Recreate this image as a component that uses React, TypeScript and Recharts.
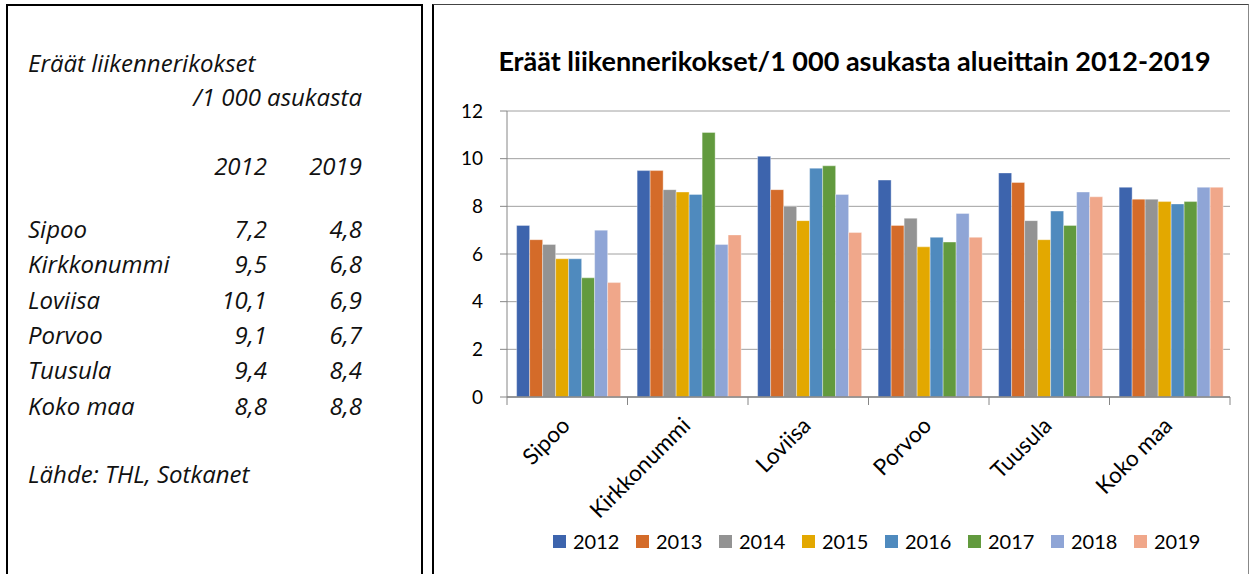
import React from "react";
import { BarChart, Bar, XAxis, YAxis, CartesianGrid, Legend } from "recharts";

// Eräät liikennerikokset / 1 000 asukasta (THL, Sotkanet)
const regions = ["Sipoo", "Kirkkonummi", "Loviisa", "Porvoo", "Tuusula", "Koko maa"];
const years = ["2012", "2013", "2014", "2015", "2016", "2017", "2018", "2019"];

const v2012 = [7.2, 9.5, 10.1, 9.1, 9.4, 8.8];
const v2013 = [6.6, 9.5, 8.7, 7.2, 9.0, 8.3];
const v2014 = [6.4, 8.7, 8.0, 7.5, 7.4, 8.3];
const v2015 = [5.8, 8.6, 7.4, 6.3, 6.6, 8.2];
const v2016 = [5.8, 8.5, 9.6, 6.7, 7.8, 8.1];
const v2017 = [5.0, 11.1, 9.7, 6.5, 7.2, 8.2];
const v2018 = [7.0, 6.4, 8.5, 7.7, 8.6, 8.8];
const v2019 = [4.8, 6.8, 6.9, 6.7, 8.4, 8.8];

const yTicks = [0, 2, 4, 6, 8, 10, 12];

const colors = [
  "#3d64ad",
  "#d46b29",
  "#939393",
  "#e3a800",
  "#4f8abe",
  "#629a3e",
  "#8fa5d6",
  "#f0a78a",
];

const series = [v2012, v2013, v2014, v2015, v2016, v2017, v2018, v2019];

const data = regions.map((name, i) => {
  const row: Record<string, string | number> = { name };
  years.forEach((y, j) => {
    row[y] = series[j][i];
  });
  return row;
});

const FONT = "Lato, 'Open Sans', sans-serif";
const SIDE_FONT = "'Open Sans', Lato, sans-serif";
const CHART_W = 814;
const CHART_H = 569;
const MARGIN = { top: 106, right: 18, left: 0, bottom: 22 };
const Y_W = 73;
const BAND = (CHART_W - MARGIN.left - MARGIN.right - Y_W) / regions.length;

const fmt = (v: number) => v.toFixed(1).replace(".", ",");

const XTick = (props: any) => {
  const { x, y, payload, index } = props;
  const half = BAND / 2;
  const tx = x + 4;
  const ty = y + 30;
  return (
    <g>
      <line x1={x - half} y1={y} x2={x - half} y2={y + 8} stroke="#868686" />
      {index === regions.length - 1 && (
        <line x1={x + half} y1={y} x2={x + half} y2={y + 8} stroke="#868686" />
      )}
      <text
        x={tx}
        y={ty}
        textAnchor="end"
        fontSize={22.5}
        fontFamily={FONT}
        fill="#000"
        transform={`rotate(-45 ${tx} ${ty})`}
      >
        {payload.value}
      </text>
    </g>
  );
};

const renderLegend = (props: any) => (
  <div style={{ display: "flex", paddingLeft: 119, height: 22, alignItems: "center" }}>
    {(props.payload || []).map((entry: any) => (
      <div key={entry.value} style={{ width: 83, display: "flex", alignItems: "center" }}>
        <span
          style={{
            display: "inline-block",
            width: 13,
            height: 13,
            background: entry.color,
            marginRight: 7,
          }}
        />
        <span style={{ fontSize: 20, fontFamily: FONT, color: "#000" }}>{entry.value}</span>
      </div>
    ))}
  </div>
);

const App = () => {
  const rowY = (i: number) => 238 + i * 35.3;
  return (
    <div
      style={{
        position: "fixed",
        left: 0,
        top: 0,
        width: 1250,
        height: 574,
        overflow: "hidden",
        background: "#fff",
        fontFamily: FONT,
      }}
    >
      {/* left text box */}
      <div
        style={{
          position: "absolute",
          left: 6,
          top: 4,
          width: 413,
          height: 640,
          border: "2px solid #000",
        }}
      />
      <svg
        width={430}
        height={574}
        style={{ position: "absolute", left: 0, top: 0 }}
        fontFamily={SIDE_FONT}
        fontStyle="italic"
        fontSize={24}
        fill="#111"
      >
        <text x={28} y={72}>Eräät liikennerikokset</text>
        <text x={362} y={106} textAnchor="end">/1 000 asukasta</text>
        <text x={267} y={175} textAnchor="end">{years[0]}</text>
        <text x={362} y={175} textAnchor="end">{years[years.length - 1]}</text>
        {regions.map((r, i) => (
          <g key={r}>
            <text x={28} y={rowY(i)}>{r}</text>
            <text x={267} y={rowY(i)} textAnchor="end">{fmt(v2012[i])}</text>
            <text x={362} y={rowY(i)} textAnchor="end">{fmt(v2019[i])}</text>
          </g>
        ))}
        <text x={28} y={483}>Lähde: THL, Sotkanet</text>
      </svg>

      {/* chart box */}
      <div
        style={{
          position: "absolute",
          left: 432,
          top: 4,
          width: CHART_W,
          height: 640,
          borderLeft: "2px solid #000",
          borderTop: "1px solid #444",
          borderRight: "1px solid #888",
        }}
      >
        <div
          style={{
            position: "absolute",
            left: 0,
            top: 0,
            width: CHART_W,
            textAlign: "center",
            paddingLeft: 27,
            boxSizing: "border-box",
            marginTop: 40,
            fontWeight: 700,
            fontSize: 27,
            lineHeight: 1.2,
            color: "#000",
            whiteSpace: "nowrap",
          }}
        >
          Eräät liikennerikokset/1 000 asukasta alueittain 2012-2019
        </div>
        <div style={{ position: "absolute", left: 0, top: 0 }}>
          <BarChart
            width={CHART_W}
            height={CHART_H}
            data={data}
            margin={MARGIN}
            barGap={0}
            barCategoryGap="8%"
          >
            <CartesianGrid vertical={false} stroke="#a0a0a0" />
            <XAxis
              dataKey="name"
              height={133}
              interval={0}
              tickSize={0}
              tickMargin={0}
              tickLine={false}
              axisLine={{ stroke: "#868686", strokeWidth: 1.5 }}
              tick={<XTick />}
            />
            <XAxis
              xAxisId="top"
              dataKey="name"
              orientation="top"
              height={0}
              tick={false}
              tickLine={false}
              axisLine={{ stroke: "#000", strokeWidth: 1.5 }}
            />
            <YAxis
              width={Y_W}
              domain={[0, 12]}
              ticks={yTicks}
              interval={0}
              tickSize={7}
              tickMargin={17}
              stroke="#868686"
              tick={{ fill: "#000", fontSize: 19, fontFamily: FONT }}
            />
            <YAxis
              yAxisId="right"
              orientation="right"
              width={0}
              domain={[0, 12]}
              tick={false}
              tickLine={false}
              axisLine={{ stroke: "#000", strokeWidth: 1.2 }}
            />
            <Legend
              verticalAlign="bottom"
              wrapperStyle={{ left: 0, width: CHART_W }}
              content={renderLegend}
            />
            {years.map((y, j) => (
              <Bar
                key={y}
                dataKey={y}
                fill={colors[j]}
                stroke="#ffffff"
                strokeOpacity={0.45}
                strokeWidth={0.8}
                isAnimationActive={false}
              />
            ))}
          </BarChart>
        </div>
      </div>
    </div>
  );
};

export default App;
